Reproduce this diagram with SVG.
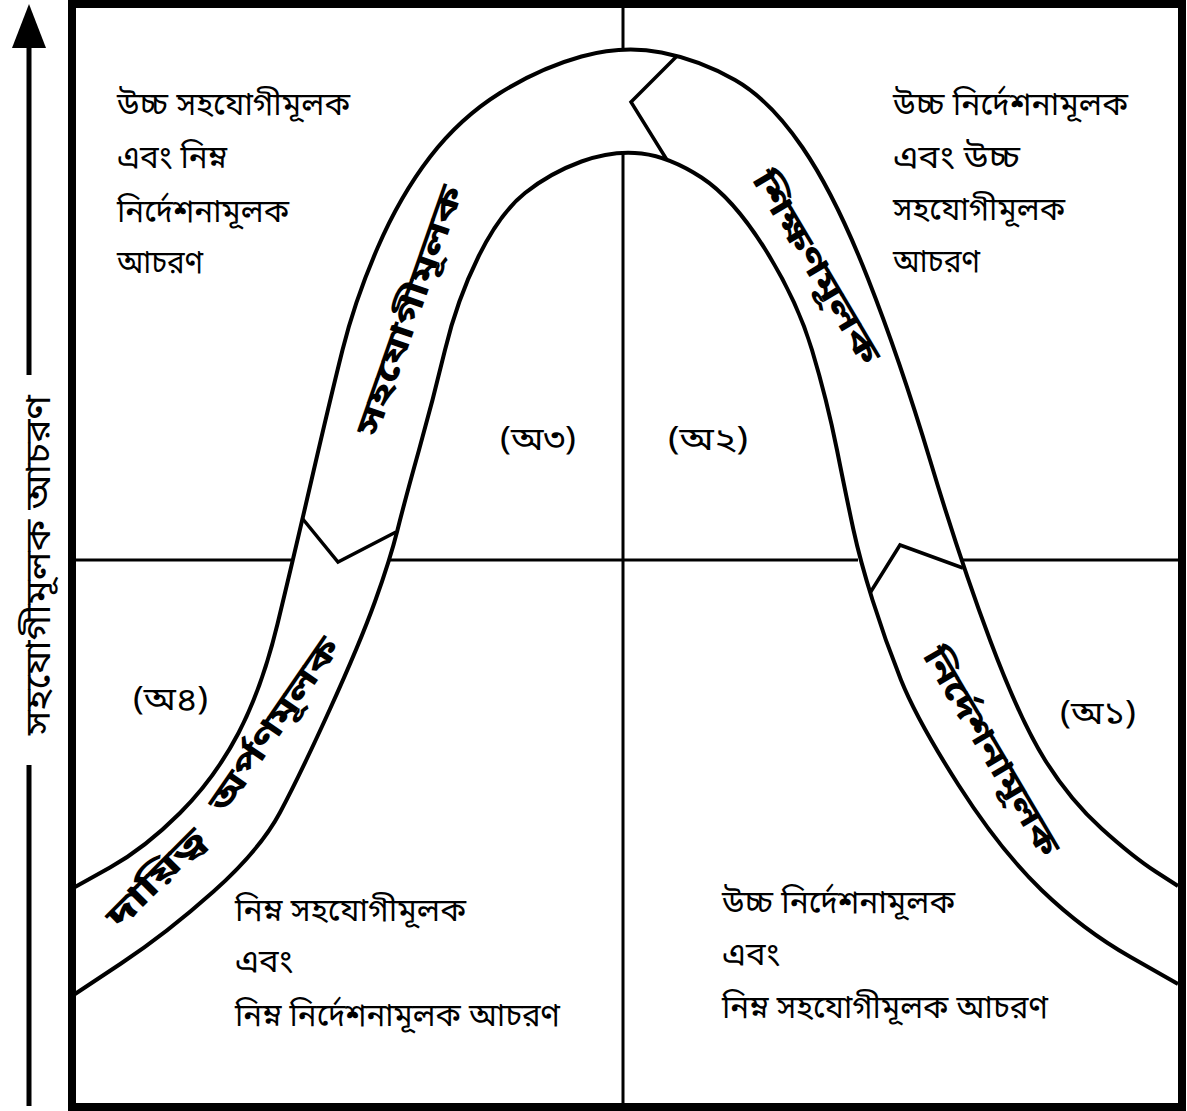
<svg xmlns="http://www.w3.org/2000/svg" width="1187" height="1111" viewBox="0 0 1187 1111">
<style>
.frame{fill:none;stroke:#000;stroke-width:8}
.div{fill:none;stroke:#000;stroke-width:3}
.curve{fill:none;stroke:#000;stroke-width:4}
.cut{fill:none;stroke:#000;stroke-width:3.5;stroke-linejoin:miter}
.axis{fill:none;stroke:#000;stroke-width:5}
text{font-family:"Noto Sans Bengali","Noto Serif Bengali","Lohit Bengali","FreeSans","Noto Sans",sans-serif;fill:#000}
.q{font-size:32px}
.lab{font-family:"Liberation Serif","Noto Serif Bengali","Noto Sans Bengali","FreeSerif",serif;font-size:32px}
.band{font-size:33px;font-weight:bold}
.ax{font-size:35px}
</style>
<rect width="1187" height="1111" fill="#fff"/>
<g id="frame">
<rect class="frame" x="72" y="4" width="1110" height="1103"/>
</g>
<g id="connectors">
<path class="div" d="M623,8 V50 M623,153 V1103 M75,560 H291 M390,560 H858 M961,560 H1178"/>
<path id="outer-arch" class="curve" d="M75,887 L110,867.5 Q145,848 180,813 Q215,778 238.5,733 Q262,688 277.5,624 Q293,560 311.5,480 Q330,400 342.5,350 Q355,300 377.5,248 Q400,196 430,157 Q460,118 500,93 Q540,68 581.5,56.5 Q623,45 661.5,52.5 Q700,60 735,80 Q770,100 802.5,147.5 Q835,195 867.5,277.5 Q900,360 930,460 Q960,560 990,640 Q1020,720 1045,760 Q1070,800 1101.5,828.5 Q1133,857 1155.5,871.5 L1178,886"/>
<path id="inner-arch" class="curve" d="M75,994 L121,963.5 Q167,933 213.5,891.5 Q260,850 280,812.5 Q300,775 330,709 Q360,643 375,601.5 Q390,560 397.5,530 Q405,500 419,450 Q433,400 445,350 Q457,300 478.5,256.5 Q500,213 525,193 Q550,173 581.5,161.5 Q613,150 641.5,153.5 Q670,157 701.5,177.5 Q733,198 765,249 Q797,300 812,350 Q827,400 837,450 Q847,500 853.5,530 Q860,560 872.5,600 Q885,640 901,680 Q917,720 958.5,785 Q1000,850 1041.5,890 Q1083,930 1130.5,957 L1178,984"/>
<polyline class="cut" points="677,56 631,102 667,160"/>
<polyline class="cut" points="302,518 338,562 396,532"/>
<polyline class="cut" points="870,593 900,545 963,568"/>
</g>
<g id="axis">
<polygon points="29,4 12,48 46,48" fill="#000"/>
<path class="axis" d="M29,46 V375 M29,765 V1106"/>
<text class="ax" transform="translate(50,565) rotate(-90)" text-anchor="middle" textLength="340" lengthAdjust="spacingAndGlyphs">সহযোগীমূলক আচরণ</text>
</g>
<g id="q-top-left" class="q">
<text x="117" y="115" textLength="233" lengthAdjust="spacingAndGlyphs">উচ্চ সহযোগীমূলক</text>
<text x="117" y="168" textLength="110" lengthAdjust="spacingAndGlyphs">এবং নিম্ন</text>
<text x="117" y="222" textLength="172" lengthAdjust="spacingAndGlyphs">নির্দেশনামূলক</text>
<text x="117" y="273" textLength="86" lengthAdjust="spacingAndGlyphs">আচরণ</text>
</g>
<g id="q-top-right" class="q">
<text x="893" y="115" textLength="235" lengthAdjust="spacingAndGlyphs">উচ্চ নির্দেশনামূলক</text>
<text x="893" y="168" textLength="127" lengthAdjust="spacingAndGlyphs">এবং উচ্চ</text>
<text x="893" y="220" textLength="172" lengthAdjust="spacingAndGlyphs">সহযোগীমূলক</text>
<text x="893" y="272" textLength="87" lengthAdjust="spacingAndGlyphs">আচরণ</text>
</g>
<g id="q-bottom-left" class="q">
<text x="235" y="921" textLength="231" lengthAdjust="spacingAndGlyphs">নিম্ন সহযোগীমূলক</text>
<text x="235" y="972" textLength="58" lengthAdjust="spacingAndGlyphs">এবং</text>
<text x="235" y="1026" textLength="325" lengthAdjust="spacingAndGlyphs">নিম্ন নির্দেশনামূলক আচরণ</text>
</g>
<g id="q-bottom-right" class="q">
<text x="722" y="913" textLength="233" lengthAdjust="spacingAndGlyphs">উচ্চ নির্দেশনামূলক</text>
<text x="722" y="965" textLength="58" lengthAdjust="spacingAndGlyphs">এবং</text>
<text x="722" y="1018" textLength="326" lengthAdjust="spacingAndGlyphs">নিম্ন সহযোগীমূলক আচরণ</text>
</g>
<g id="labels" class="lab">
<text x="500" y="450" textLength="76" lengthAdjust="spacingAndGlyphs">(অ৩)</text>
<text x="668" y="450" textLength="80" lengthAdjust="spacingAndGlyphs">(অ২)</text>
<text x="133" y="710" textLength="75" lengthAdjust="spacingAndGlyphs">(অ৪)</text>
<text x="1060" y="724" textLength="76" lengthAdjust="spacingAndGlyphs">(অ১)</text>
</g>
<g id="band-collab" class="band">
<text transform="translate(420,314) rotate(-70.7)" text-anchor="middle" textLength="262" lengthAdjust="spacingAndGlyphs">সহযোগীমূলক</text>
</g>
<g id="band-teach" class="band">
<text transform="translate(807,273) rotate(59.3)" text-anchor="middle" textLength="218" lengthAdjust="spacingAndGlyphs">শিক্ষণমূলক</text>
</g>
<g id="band-direct" class="band">
<text transform="translate(982,757) rotate(59.4)" text-anchor="middle" textLength="236" lengthAdjust="spacingAndGlyphs">নির্দেশনামূলক</text>
</g>
<g id="band-delegate" class="band">
<text transform="translate(164,886) rotate(-45)" text-anchor="middle" textLength="126" lengthAdjust="spacingAndGlyphs">দায়িত্ব</text>
<text transform="translate(283,731) rotate(-55.5)" text-anchor="middle" textLength="204" lengthAdjust="spacingAndGlyphs">অর্পণমূলক</text>
</g>
</svg>
